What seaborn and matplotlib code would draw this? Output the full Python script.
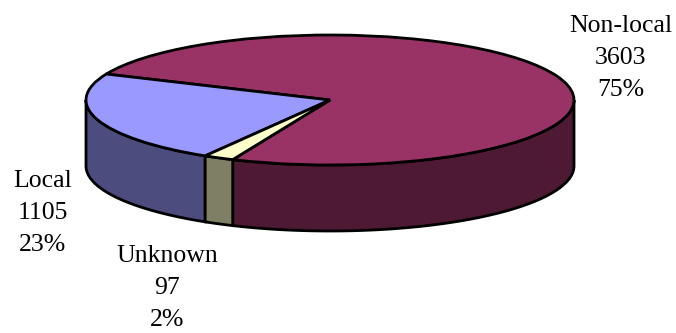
import numpy as np
import matplotlib
matplotlib.use('Agg')
import matplotlib.pyplot as plt
from matplotlib.transforms import Affine2D
import seaborn as sns

# data
labels = ['Non-local', 'Local', 'Unknown']
counts = [3603, 1105, 97]
top_colors = ['#993366', '#9999FF', '#FFFFCC']
side_colors = ['#4D1933', '#4C4C7F', '#7F7F66']
# label centres in image pixels (y from top)
label_pos = [(621, 58), (43, 213), (167, 288)]

sns.set_style('white')
plt.rcParams['font.family'] = ['Liberation Serif', 'DejaVu Serif']

W, H = 676, 333
cx, cy = 330, H - 100
rx, ry = 244, 65
depth = 66
start = 246.5

fig = plt.figure(figsize=(W / 100, H / 100), dpi=100)
ax = fig.add_axes([0, 0, 1, 1])

# top face: a normal pie squashed into an ellipse
wedges, _ = ax.pie(counts, colors=top_colors, startangle=start, counterclock=True,
                   wedgeprops=dict(edgecolor='black', linewidth=2))
squash = Affine2D().scale(rx, ry).translate(cx, cy) + ax.transData
for w in wedges:
    w.set_transform(squash)
    w.set_zorder(3)

# side walls, only the front half (180..360 deg) is visible
for w, col in zip(wedges, side_colors):
    t1, t2 = w.theta1, w.theta2
    for k in (-360, 0, 360):
        a, b = max(t1 + k, 180), min(t2 + k, 360)
        if b <= a:
            continue
        th = np.radians(np.linspace(a, b, 120))
        xs = cx + rx * np.cos(th)
        ys = cy + ry * np.sin(th)
        ax.fill(np.r_[xs, xs[::-1]], np.r_[ys, ys[::-1] - depth],
                facecolor=col, edgecolor='black', linewidth=2, zorder=2)

total = sum(counts)
for lab, c, (x, y) in zip(labels, counts, label_pos):
    pct = round(100 * c / total)
    ax.text(x, H - y, f'{lab}\n{c}\n{pct}%', ha='center', va='center',
            fontsize=18.5, linespacing=1.6, color='black')

ax.set_xlim(0, W)
ax.set_ylim(0, H)
ax.set_aspect('auto')
ax.axis('off')

fig.savefig('out.png', dpi=100)
